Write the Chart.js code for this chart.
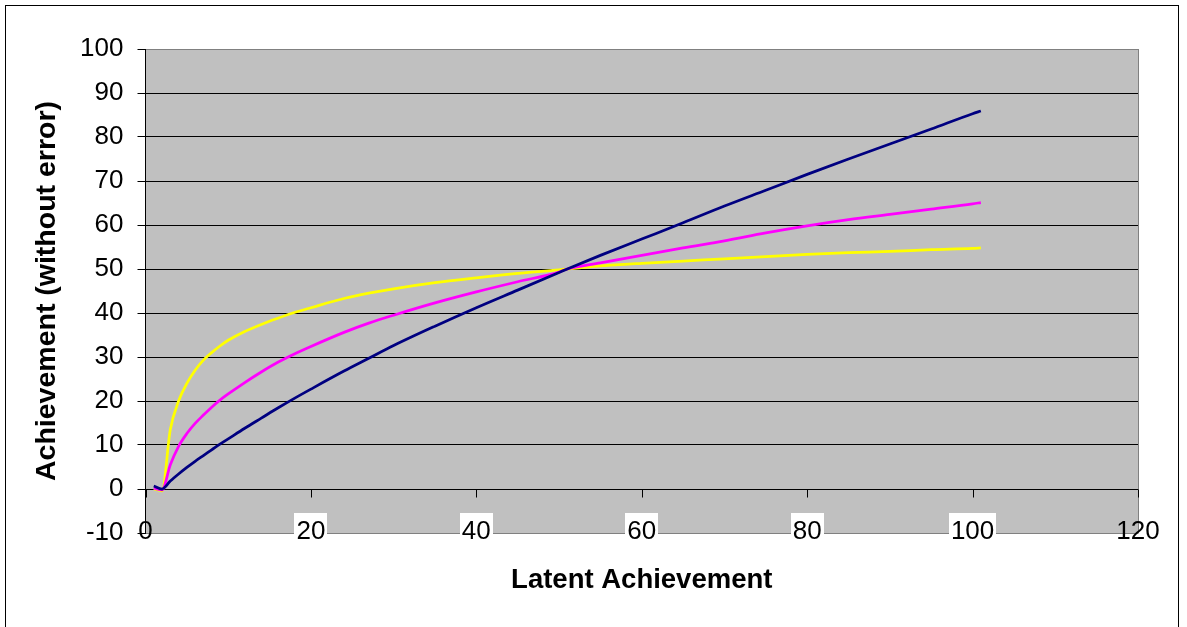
<!DOCTYPE html>
<html>
<head>
<meta charset="utf-8">
<script src="https://cdn.jsdelivr.net/npm/chart.js@4/dist/chart.umd.min.js"></script>
<style>
  html, body { margin: 0; padding: 0; background: #ffffff; }
  canvas { display: block; }
</style>
</head>
<body>
<canvas id="chart" width="1187" height="627"></canvas>
<script>
// Latent achievement values at which each curve is sampled
const latent = [1, 2, 3, 4, 5, 6, 7, 8, 9, 10, 12, 14, 16, 18, 20, 24, 27, 30, 35, 40, 45, 50, 51, 55, 60, 65, 70, 75, 80, 85, 90, 95, 100, 101];

// Achievement (without error) for three scalings of the latent trait
const navyCurve = [0.7, 0, 1.8, 3.4, 4.9, 6.3, 7.6, 8.9, 10.2, 11.4, 13.8, 16.1, 18.4, 20.6, 22.7, 26.8, 29.7, 32.6, 37.0, 41.2, 45.2, 49.2, 50, 53.1, 56.8, 60.5, 64.3, 67.9, 71.5, 75.0, 78.4, 81.8, 85.3, 85.9];
const magentaCurve = [0.2, -0.2, 5.5, 9.7, 12.6, 14.9, 16.8, 18.6, 20.2, 21.6, 24.2, 26.6, 28.8, 30.7, 32.4, 35.6, 37.7, 39.5, 42.3, 44.8, 47.1, 49.3, 50, 51.4, 53.1, 54.8, 56.4, 58.2, 59.8, 61.2, 62.4, 63.6, 64.8, 65.1];
const yellowCurve = [0, -0.4, 13.5, 20, 24, 27, 29.3, 31, 32.5, 33.8, 35.8, 37.4, 38.8, 40.1, 41.2, 43.3, 44.5, 45.5, 46.9, 48.0, 49.0, 49.8, 50, 50.7, 51.3, 51.8, 52.3, 52.8, 53.3, 53.7, 54.0, 54.4, 54.7, 54.8];

// Axis ranges and tick labels
const xTickValues = [0, 20, 40, 60, 80, 100, 120];
const yMin = -10, yMax = 100, yStep = 10;
const xTitle = 'Latent Achievement';
const yTitle = 'Achievement (without error)';

const FONT = '"Liberation Sans", Arial, sans-serif';

function toPoints(ys) {
  return latent.map((x, i) => ({ x: x, y: ys[i] }));
}

function series(ys, color) {
  return {
    data: toPoints(ys),
    borderColor: color,
    backgroundColor: color,
    borderWidth: 2.75,
    pointRadius: 0,
    pointHoverRadius: 0,
    cubicInterpolationMode: 'monotone',
    borderJoinStyle: 'round',
    fill: false
  };
}

// Grey plot area and white page behind everything
const plotBackground = {
  id: 'plotBackground',
  beforeDraw(chart) {
    const { ctx, chartArea: a } = chart;
    ctx.save();
    ctx.fillStyle = '#ffffff';
    ctx.fillRect(0, 0, chart.width, chart.height);
    ctx.fillStyle = '#c0c0c0';
    ctx.fillRect(a.left, a.top, a.right - a.left, a.bottom - a.top);
    ctx.restore();
  }
};

// Right-hand plot border, horizontal axis crossing at zero, its ticks and labels, outer frame
const axisDecor = {
  id: 'axisDecor',
  beforeDatasetsDraw(chart) {
    const { ctx, chartArea: a, scales } = chart;
    ctx.save();
    ctx.strokeStyle = '#808080';
    ctx.lineWidth = 1;
    const rx = Math.round(a.right) + 0.5;
    ctx.beginPath();
    ctx.moveTo(rx, a.top);
    ctx.lineTo(rx, a.bottom + 0.5);
    ctx.stroke();

    const y0 = Math.round(scales.y.getPixelForValue(0)) + 0.5;
    ctx.strokeStyle = '#000000';
    ctx.beginPath();
    ctx.moveTo(a.left, y0);
    ctx.lineTo(a.right, y0);
    xTickValues.forEach(v => {
      const px = Math.round(scales.x.getPixelForValue(v)) + 0.5;
      ctx.moveTo(px, y0);
      ctx.lineTo(px, y0 + 8);
    });
    ctx.stroke();
    ctx.restore();
  },
  afterDraw(chart) {
    const { ctx, scales } = chart;
    ctx.save();
    ctx.font = '26px ' + FONT;
    ctx.textAlign = 'center';
    ctx.textBaseline = 'alphabetic';
    xTickValues.forEach((v, i) => {
      const px = scales.x.getPixelForValue(v);
      const label = String(v);
      const w = ctx.measureText(label).width;
      if (i > 0 && i < xTickValues.length - 1) {
        ctx.fillStyle = '#ffffff';
        ctx.fillRect(Math.round(px - w / 2 - 2), 513, Math.round(w + 4), 32);
      }
      ctx.fillStyle = '#000000';
      ctx.fillText(label, px, 538.5);
    });

    ctx.strokeStyle = '#000000';
    ctx.lineWidth = 1;
    ctx.strokeRect(5.5, 5.5, 1173, 630);
    ctx.restore();
  }
};

new Chart(document.getElementById('chart'), {
  type: 'line',
  data: {
    datasets: [
      series(navyCurve, '#000080'),
      series(magentaCurve, '#ff00ff'),
      series(yellowCurve, '#ffff00')
    ]
  },
  options: {
    responsive: false,
    animation: false,
    devicePixelRatio: 1,
    layout: { padding: { top: 49, right: 49, bottom: 0, left: 0 } },
    plugins: {
      legend: { display: false },
      tooltip: { enabled: false }
    },
    scales: {
      x: {
        type: 'linear',
        min: 0,
        max: 120,
        grid: { display: false },
        border: { display: false },
        ticks: { display: false },
        title: {
          display: true,
          text: xTitle,
          color: '#000000',
          font: { family: FONT, size: 27.5, weight: 'bold' },
          padding: { top: 0, bottom: 30.5 }
        },
        afterFit(scale) { scale.height = 94; }
      },
      y: {
        type: 'linear',
        min: yMin,
        max: yMax,
        ticks: {
          stepSize: yStep,
          color: '#000000',
          font: { family: FONT, size: 26 },
          padding: 14
        },
        grid: {
          color: ctx => (ctx.tick && (ctx.tick.value === yMax || ctx.tick.value === yMin)) ? '#808080' : '#000000',
          tickColor: '#000000',
          tickLength: 8,
          lineWidth: 1
        },
        border: { display: true, color: '#000000', width: 1 },
        title: {
          display: true,
          text: yTitle,
          color: '#000000',
          font: { family: FONT, size: 28.5, weight: 'bold' },
          padding: { top: 30, bottom: 0 }
        },
        afterFit(scale) { scale.width = 145.5; }
      }
    }
  },
  plugins: [plotBackground, axisDecor]
});
</script>
</body>
</html>
